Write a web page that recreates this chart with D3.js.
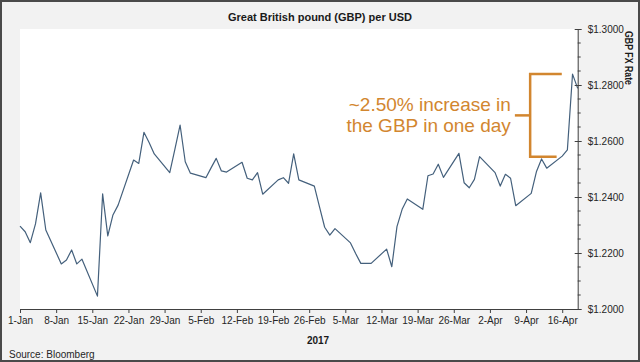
<!DOCTYPE html>
<html>
<head>
<meta charset="utf-8">
<script src="https://cdn.jsdelivr.net/npm/d3@7"></script>
<style>
  html, body { margin: 0; padding: 0; background: #fff; }
  svg { display: block; }
  .narrow { font-family: 'Liberation Sans Narrow', 'Arial Narrow', 'Liberation Sans', sans-serif; }
</style>
</head>
<body>
<svg id="chart" width="640" height="362"></svg>
<script>
// ---- DATA ----
const dates = [
  "2017-01-01","2017-01-02","2017-01-03","2017-01-04","2017-01-05","2017-01-06",
  "2017-01-09","2017-01-10","2017-01-11","2017-01-12","2017-01-13",
  "2017-01-16","2017-01-17","2017-01-18","2017-01-19","2017-01-20",
  "2017-01-23","2017-01-24","2017-01-25","2017-01-26","2017-01-27",
  "2017-01-30","2017-01-31","2017-02-01","2017-02-02","2017-02-03",
  "2017-02-06","2017-02-07","2017-02-08","2017-02-09","2017-02-10",
  "2017-02-13","2017-02-14","2017-02-15","2017-02-16","2017-02-17",
  "2017-02-20","2017-02-21","2017-02-22","2017-02-23","2017-02-24",
  "2017-02-27","2017-02-28","2017-03-01","2017-03-02","2017-03-03",
  "2017-03-06","2017-03-07","2017-03-08","2017-03-09","2017-03-10",
  "2017-03-13","2017-03-14","2017-03-15","2017-03-16","2017-03-17",
  "2017-03-20","2017-03-21","2017-03-22","2017-03-23","2017-03-24",
  "2017-03-27","2017-03-28","2017-03-29","2017-03-30","2017-03-31",
  "2017-04-03","2017-04-04","2017-04-05","2017-04-06","2017-04-07",
  "2017-04-10","2017-04-11","2017-04-12","2017-04-13",
  "2017-04-16","2017-04-17","2017-04-18","2017-04-19"
];
const gbpUsd = [
  1.2296,1.2276,1.2237,1.2304,1.2415,1.2282,
  1.2161,1.2175,1.2211,1.2161,1.2178,
  1.2046,1.2411,1.2261,1.2336,1.2371,
  1.2532,1.2520,1.2631,1.2595,1.2554,
  1.2487,1.2571,1.2657,1.2526,1.2485,
  1.2469,1.2504,1.2538,1.2493,1.2489,
  1.2524,1.2467,1.2461,1.2487,1.2410,
  1.2461,1.2469,1.2449,1.2554,1.2461,
  1.2439,1.2365,1.2292,1.2264,1.2287,
  1.2236,1.2198,1.2163,1.2163,1.2163,
  1.2214,1.2151,1.2294,1.2356,1.2393,
  1.2356,1.2476,1.2482,1.2517,1.2470,
  1.2556,1.2451,1.2433,1.2463,1.2544,
  1.2487,1.2439,1.2481,1.2467,1.2369,
  1.2413,1.2490,1.2536,1.2503,
  1.2546,1.2568,1.2839,1.2788
];
const xTickDates = ["2017-01-01","2017-01-08","2017-01-15","2017-01-22","2017-01-29","2017-02-05",
  "2017-02-12","2017-02-19","2017-02-26","2017-03-05","2017-03-12","2017-03-19","2017-03-26",
  "2017-04-02","2017-04-09","2017-04-16"];
const xTickLabels = ["1-Jan","8-Jan","15-Jan","22-Jan","29-Jan","5-Feb","12-Feb","19-Feb","26-Feb",
  "5-Mar","12-Mar","19-Mar","26-Mar","2-Apr","9-Apr","16-Apr"];
const yTicks = [1.20, 1.22, 1.24, 1.26, 1.28, 1.30];
const yTickLabels = ["$1.2000","$1.2200","$1.2400","$1.2600","$1.2800","$1.3000"];
const xDomain = ["2017-01-01T00:00", "2017-04-19T00:00"];
const yDomain = [1.20, 1.30];
const titleText = "Great British pound (GBP) per USD";
const yAxisTitle = "GBP FX Rate";
const xAxisTitle = "2017";
const sourceText = "Source: Bloomberg";
const annotationLines = ["~2.50% increase in", "the GBP in one day"];
const annotationLow = 1.2544;           // level before the jump
const bracketDates = { tick: "2017-04-06T20:00", left: "2017-04-09T19:00",
                       bottomEnd: "2017-04-14T22:00", topEnd: "2017-04-15T22:00" };

// ---- CHART ----
const W = 640, H = 362;
const svg = d3.select("#chart");
const parseDay = d3.timeParse("%Y-%m-%d");
const parseDT = d3.timeParse("%Y-%m-%dT%H:%M");

svg.append("rect").attr("x", 0).attr("y", 0).attr("width", W).attr("height", H).attr("fill", "#f2f2f2");

const plot = { left: 20, right: 577.7, top: 29, bottom: 309 };
const x = d3.scaleTime().domain(xDomain.map(parseDT)).range([plot.left, plot.right]);
const y = d3.scaleLinear().domain(yDomain).range([plot.bottom, plot.top]);

svg.append("rect").attr("x", plot.left).attr("y", plot.top)
  .attr("width", plot.right - plot.left).attr("height", plot.bottom - plot.top).attr("fill", "#ffffff");

// title
svg.append("text").attr("x", 320).attr("y", 21).attr("text-anchor", "middle")
  .attr("font-family", "'Liberation Sans', Arial, sans-serif").attr("font-weight", "bold")
  .attr("font-size", 11).attr("fill", "#1a1a1a").text(titleText);

// data line
const data = dates.map((d, i) => ({ date: parseDay(d), v: gbpUsd[i] }));
svg.append("path").datum(data)
  .attr("fill", "none").attr("stroke", "#44607c").attr("stroke-width", 1.2)
  .attr("stroke-linejoin", "round")
  .attr("d", d3.line().x(d => x(d.date)).y(d => y(d.v)));

// x axis
const axisColor = "#404040";
const xAxis = d3.axisBottom(x)
  .tickValues(xTickDates.map(parseDay))
  .tickFormat((d, i) => xTickLabels[i])
  .tickSizeInner(4).tickSizeOuter(0).tickPadding(4);
const gx = svg.append("g").attr("transform", `translate(0,${plot.bottom})`).call(xAxis);
gx.select(".domain").attr("stroke", axisColor);
gx.selectAll(".tick line").attr("stroke", axisColor);
gx.selectAll(".tick text").attr("class", "narrow").attr("font-size", 10).attr("fill", "#262626");

// y axis (right side) with major cross ticks and minor ticks
const yAxis = d3.axisRight(y).tickValues(yTicks)
  .tickFormat((d, i) => yTickLabels[i]).tickSizeInner(4).tickSizeOuter(0).tickPadding(6);
const gy = svg.append("g").attr("transform", `translate(${plot.right},0)`).call(yAxis);
gy.select(".domain").attr("stroke", axisColor);
gy.selectAll(".tick line").attr("stroke", axisColor).attr("x1", -3);
gy.selectAll(".tick text").attr("class", "narrow").attr("font-size", 10).attr("fill", "#262626");
const minor = d3.range(yDomain[0], yDomain[1] + 1e-9, 0.005)
  .filter(v => !yTicks.some(t => Math.abs(t - v) < 1e-9));
gy.selectAll(".minor").data(minor).enter().append("line")
  .attr("x1", 0).attr("x2", 3).attr("y1", d => y(d)).attr("y2", d => y(d))
  .attr("stroke", axisColor);

// axis titles
svg.append("text").attr("class", "narrow")
  .attr("transform", `translate(625, ${plot.top + 2}) rotate(90)`)
  .attr("font-weight", "bold").attr("font-size", 10)
  .attr("textLength", 54).attr("lengthAdjust", "spacingAndGlyphs")
  .attr("fill", "#1a1a1a").text(yAxisTitle);
svg.append("text").attr("class", "narrow").attr("x", 318).attr("y", 344).attr("text-anchor", "middle")
  .attr("font-weight", "bold").attr("font-size", 10).attr("fill", "#1a1a1a").text(xAxisTitle);
svg.append("text").attr("class", "narrow").attr("x", 9).attr("y", 358)
  .attr("font-size", 10).attr("fill", "#262626").text(sourceText);

// annotation bracket
const orange = "#d2862f";
const yHigh = y(d3.max(gbpUsd)), yLow = y(annotationLow), yMid = (yHigh + yLow) / 2;
const bx = k => x(parseDT(bracketDates[k]));
const br = svg.append("g").attr("stroke", orange).attr("stroke-width", 2.5).attr("fill", "none");
br.append("path").attr("d",
  `M${bx("topEnd")},${yHigh} H${bx("left")} V${yLow} H${bx("bottomEnd")}`);
br.append("line").attr("x1", bx("tick")).attr("x2", bx("left")).attr("y1", yMid).attr("y2", yMid);

const ann = svg.append("text").attr("text-anchor", "end")
  .attr("font-family", "'Liberation Sans', Arial, sans-serif").attr("font-size", 19).attr("fill", orange);
annotationLines.forEach((t, i) => {
  ann.append("tspan").attr("x", bx("tick") - 4).attr("y", yMid - 4 + i * 21).text(t);
});

// outer border
svg.append("rect").attr("x", 1).attr("y", 1).attr("width", W - 2).attr("height", H - 2)
  .attr("fill", "none").attr("stroke", "#4a4a4a").attr("stroke-width", 2);
</script>
</body>
</html>
